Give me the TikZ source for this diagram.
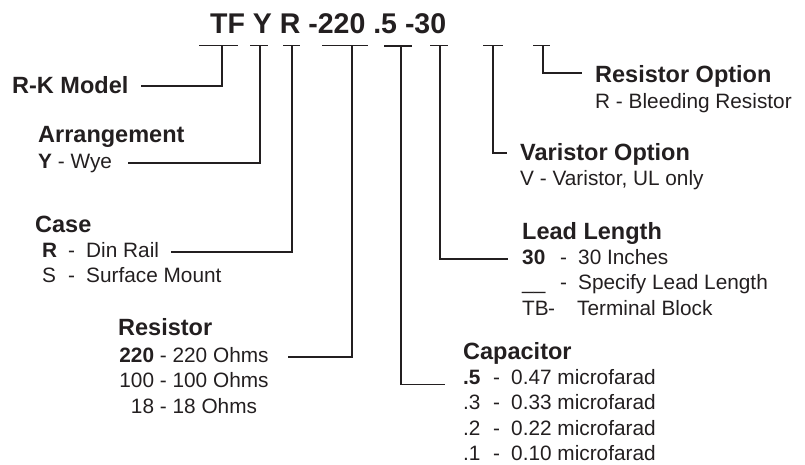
\documentclass[tikz,border=0pt]{standalone}
\usepackage{fontspec}
\setmainfont{Liberation Sans}
\usetikzlibrary{positioning}
\definecolor{ink}{HTML}{231F20}
\newcommand{\opt}[3]{\makebox[#1][l]{#2}\makebox[18pt][l]{-}#3}
\tikzset{
  title/.style={font=\fontsize{28.5}{30}\selectfont\bfseries, text=ink, anchor=base west, inner sep=0pt},
  head/.style={font=\fontsize{23.5}{26}\selectfont\bfseries, text=ink, anchor=base west, inner sep=0pt},
  body/.style={font=\fontsize{20.8}{26}\selectfont, text=ink, anchor=base west, inner sep=0pt},
  wire/.style={line width=1.4pt, draw=ink},
}
\begin{document}
\begin{tikzpicture}[x=1pt, y=-1pt]
    \useasboundingbox (0,0) rectangle (805,464);
    \def\dy{25.5pt}
    % Model code
    \node[title] (code) at (210,33) {TF Y R -220 .5 -30};
    % Tee marks under the code
    \coordinate (t1) at (222,45.5);
    \coordinate (t2) at (260,45.5);
    \coordinate (t3) at (292,45.5);
    \coordinate (t4) at (352,45.5);
    \coordinate (t5) at (401,45.5);
    \coordinate (t6) at (440,45.5);
    \coordinate (t7) at (493,45.5);
    \coordinate (t8) at (543,45.5);
    \foreach \t/\l/\r in {t1/23/16, t2/10/8, t3/9/8, t4/30/16, t6/10/8, t7/10/10, t8/10/7}
        \draw[wire] ([xshift=-\l pt]\t) -- ([xshift=\r pt]\t);
    \draw[wire, line width=2pt] ([xshift=-17pt]t5) -- ([xshift=11pt]t5);
    % R-K Model
    \node[head] (model) at (12,93) {R-K Model};
    % Arrangement
    \node[head] (arrange) at (38,142) {Arrangement};
    \node[body] (wye) at (38,168) {\textbf{Y} - Wye};
    % Case
    \node[head] (case) at (35,232) {Case};
    \node[body] (din) at (42,257) {\opt{26pt}{\textbf{R}}{Din Rail}};
    \node[body] (surf) at ([yshift=-\dy]din.base west) {\opt{26pt}{S}{Surface Mount}};
    % Resistor
    \node[head] (res) at (118,335) {Resistor};
    \node[body, anchor=base] (r220) at (194,362) {\textbf{220} - 220 Ohms};
    \node[body, anchor=base] (r100) at ([yshift=-\dy]r220.base) {100 - 100 Ohms};
    \node[body, anchor=base] (r18) at ([yshift=-\dy]r100.base) {18 - 18 Ohms};
    % Capacitor
    \node[head] (cap) at (463,359) {Capacitor};
    \node[body] (c5) at (463,384.5) {\opt{30pt}{\textbf{.5}}{0.47 microfarad}};
    \node[body] (c3) at ([yshift=-25.3pt]c5.base west) {\opt{30pt}{.3}{0.33 microfarad}};
    \node[body] (c2) at ([yshift=-25.3pt]c3.base west) {\opt{30pt}{.2}{0.22 microfarad}};
    \node[body] (c1) at ([yshift=-25.3pt]c2.base west) {\opt{30pt}{.1}{0.10 microfarad}};
    % Lead Length
    \node[head] (len) at (522,239) {Lead Length};
    \node[body] (l30) at (522,264) {\opt{38pt}{\textbf{30}}{30 Inches}};
    \node[body] (lsp) at ([yshift=-\dy]l30.base west) {\opt{38pt}{\_\_}{Specify Lead Length}};
    \node[body] (ltb) at ([yshift=-\dy]lsp.base west) {\makebox[26pt][l]{TB}\makebox[29pt][l]{-}Terminal Block};
    % Varistor Option
    \node[head] (vari) at (520,160) {Varistor Option};
    \node[body] (varV) at (520,185) {V - Varistor, UL only};
    % Resistor Option
    \node[head] (ropt) at (595,82) {Resistor Option};
    \node[body] (roptR) at (595,108) {R - Bleeding Resistor};
    % Leaders from the tees to the labels
    \draw[wire] (t1) |- ([shift={(12pt,7pt)}]model.base east);
    \draw[wire] (t2) |- ([shift={(16pt,5pt)}]wye.base east);
    \draw[wire] (t3) |- ([shift={(12pt,5pt)}]din.base east);
    \draw[wire] (t4) |- ([shift={(19pt,5pt)}]r220.base east);
    \draw[wire] (t5) |- ([xshift=-18pt]c5.base west);
    \draw[wire] (t6) |- ([shift={(-14pt,5pt)}]l30.base west);
    \draw[wire] (t7) |- ([shift={(-13pt,7pt)}]vari.base west);
    \draw[wire] (t8) |- ([shift={(-13pt,9pt)}]ropt.base west);
\end{tikzpicture}
\end{document}
